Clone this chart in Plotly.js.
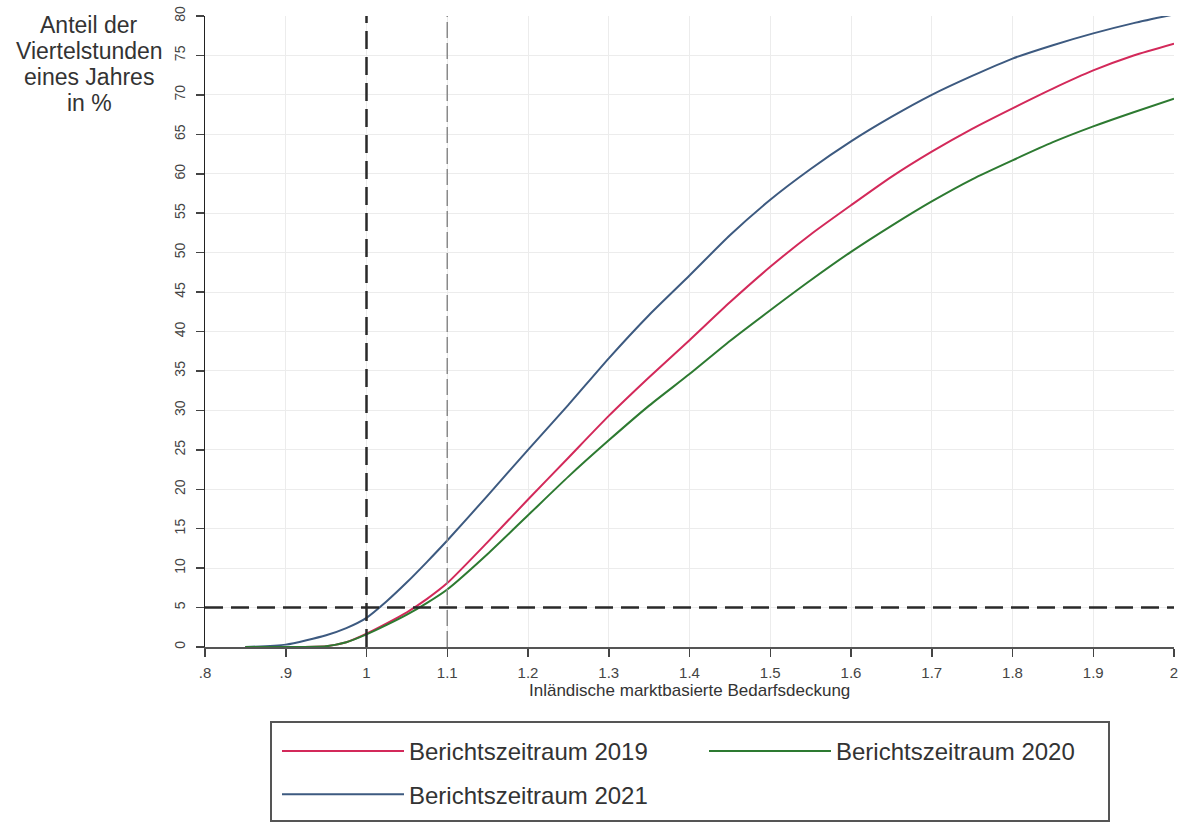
<!DOCTYPE html>
<html><head><meta charset="utf-8">
<script src="https://cdn.plot.ly/plotly-3.0.1.min.js"></script>
<style>html,body{margin:0;padding:0;background:#fff}#chart{width:1187px;height:823px}</style>
</head><body><div id="chart"></div>
<script>
const coverage = [0.85, 0.9, 0.95, 0.975, 1.0, 1.025, 1.05, 1.075, 1.1, 1.15, 1.2, 1.25, 1.3, 1.35, 1.4, 1.45, 1.5, 1.55, 1.6, 1.65, 1.7, 1.75, 1.8, 1.85, 1.9, 1.95, 2.0];
const share2019 = [0, 0, 0.1, 0.6, 1.7, 3.0, 4.4, 6.1, 8.1, 13.3, 18.7, 24.0, 29.3, 34.2, 38.9, 43.7, 48.2, 52.3, 56.0, 59.6, 62.8, 65.7, 68.3, 70.8, 73.1, 75.0, 76.5];
const share2020 = [0, 0, 0.1, 0.6, 1.6, 2.8, 4.1, 5.6, 7.3, 11.8, 16.7, 21.6, 26.2, 30.6, 34.6, 38.8, 42.7, 46.5, 50.1, 53.4, 56.5, 59.3, 61.7, 64.0, 66.0, 67.8, 69.5];
const share2021 = [0, 0.3, 1.5, 2.4, 3.7, 5.8, 8.2, 10.8, 13.5, 19.2, 25.0, 30.7, 36.6, 42.1, 47.1, 52.2, 56.7, 60.6, 64.1, 67.2, 70.0, 72.4, 74.6, 76.3, 77.8, 79.1, 80.2];
const seriesNames = ['Berichtszeitraum 2019', 'Berichtszeitraum 2020', 'Berichtszeitraum 2021'];
const xTickVals = [0.8, 0.9, 1.0, 1.1, 1.2, 1.3, 1.4, 1.5, 1.6, 1.7, 1.8, 1.9, 2.0];
const xTickText = ['.8', '.9', '1', '1.1', '1.2', '1.3', '1.4', '1.5', '1.6', '1.7', '1.8', '1.9', '2'];
const yTitleLines = ['Anteil der', 'Viertelstunden', 'eines Jahres', 'in %'];
const xTitle = 'Inländische marktbasierte Bedarfsdeckung';
const refX = [1.0, 1.1];
const refY = 5;

const FONT = '"Liberation Sans", Arial, sans-serif';
const colors = ['#d3295a', '#2d7a31', '#3d5a80'];

function tr(y, i, legend, group) {
  return {
    x: coverage, y: y, name: seriesNames[i], type: 'scatter', mode: 'lines',
    line: {color: colors[i], width: 2, shape: 'spline', smoothing: 0.6},
    legend: legend, legendgroup: group, hoverinfo: 'skip'
  };
}
const data = [
  tr(share2019, 0, 'legend', 'g1'),
  tr(share2021, 2, 'legend', 'g3'),
  tr(share2020, 1, 'legend2', 'g2')
];

const L = 205, T = 16, R = 13, B = 176;
const W = 1187, H = 823;
const pw = W - L - R, ph = H - T - B;
function px(xp) { return (xp - L) / pw; }
function py(yp) { return (H - B - yp) / ph; }

const annotations = yTitleLines.map((t, i) => ({
  xref: 'paper', yref: 'paper', x: px(89), y: py(25 + i * 26), xanchor: 'center', yanchor: 'middle',
  text: t, showarrow: false, font: {family: FONT, size: 23, color: '#333'}
}));
annotations.push({
  xref: 'paper', yref: 'paper', x: 0.5, y: py(690), xanchor: 'center', yanchor: 'middle',
  text: xTitle, showarrow: false, font: {family: FONT, size: 17, color: '#333'}
});

const shapes = [
  {type: 'line', xref: 'x', yref: 'paper', x0: refX[1], x1: refX[1], y0: 0, y1: 1,
   line: {color: '#8a8a8a', width: 1.5, dash: '16px,5px'}},
  {type: 'line', xref: 'x', yref: 'paper', x0: refX[0], x1: refX[0], y0: 0, y1: 1,
   line: {color: '#2a2a2a', width: 2.5, dash: '18px,8px'}},
  {type: 'line', xref: 'paper', yref: 'y', x0: 0, x1: 1, y0: refY, y1: refY,
   line: {color: '#2a2a2a', width: 2.5, dash: '18px,8px'}},
  {type: 'rect', xref: 'paper', yref: 'paper', x0: px(271), x1: px(1109), y0: py(821), y1: py(722),
   line: {color: '#555', width: 2}, fillcolor: 'rgba(0,0,0,0)'}
];

const legendCommon = {
  orientation: 'v', xanchor: 'left', yanchor: 'top', y: py(729),
  font: {family: FONT, size: 24, color: '#333'}, itemwidth: 122, tracegroupgap: 9,
  bgcolor: 'rgba(0,0,0,0)', borderwidth: 0
};

const layout = {
  width: W, height: H,
  margin: {l: L, r: R, t: T, b: B, autoexpand: false},
  paper_bgcolor: '#fff', plot_bgcolor: '#fff',
  showlegend: true,
  legend: Object.assign({}, legendCommon, {x: px(277)}),
  legend2: Object.assign({}, legendCommon, {x: px(704)}),
  xaxis: {
    range: [0.8, 2.0], tickvals: xTickVals, ticktext: xTickText,
    showgrid: true, gridcolor: '#ececec', gridwidth: 1,
    showline: true, linecolor: '#555', linewidth: 2,
    ticks: 'outside', ticklen: 8, tickwidth: 1.5, tickcolor: '#444',
    tickfont: {family: FONT, size: 15, color: '#444'}, ticklabelstandoff: 3,
    zeroline: false, fixedrange: true, automargin: false
  },
  yaxis: {
    range: [0, 80], dtick: 5, tick0: 0, tickangle: -90,
    showgrid: true, gridcolor: '#ececec', gridwidth: 1,
    showline: true, linecolor: '#222', linewidth: 1.5,
    ticks: 'outside', ticklen: 8, tickwidth: 1.5, tickcolor: '#444',
    tickfont: {family: FONT, size: 14, color: '#444'}, ticklabelstandoff: 5,
    zeroline: false, fixedrange: true, automargin: false
  },
  shapes: shapes,
  annotations: annotations
};

Plotly.newPlot('chart', data, layout, {displayModeBar: false, staticPlot: true});
</script>
</body></html>
